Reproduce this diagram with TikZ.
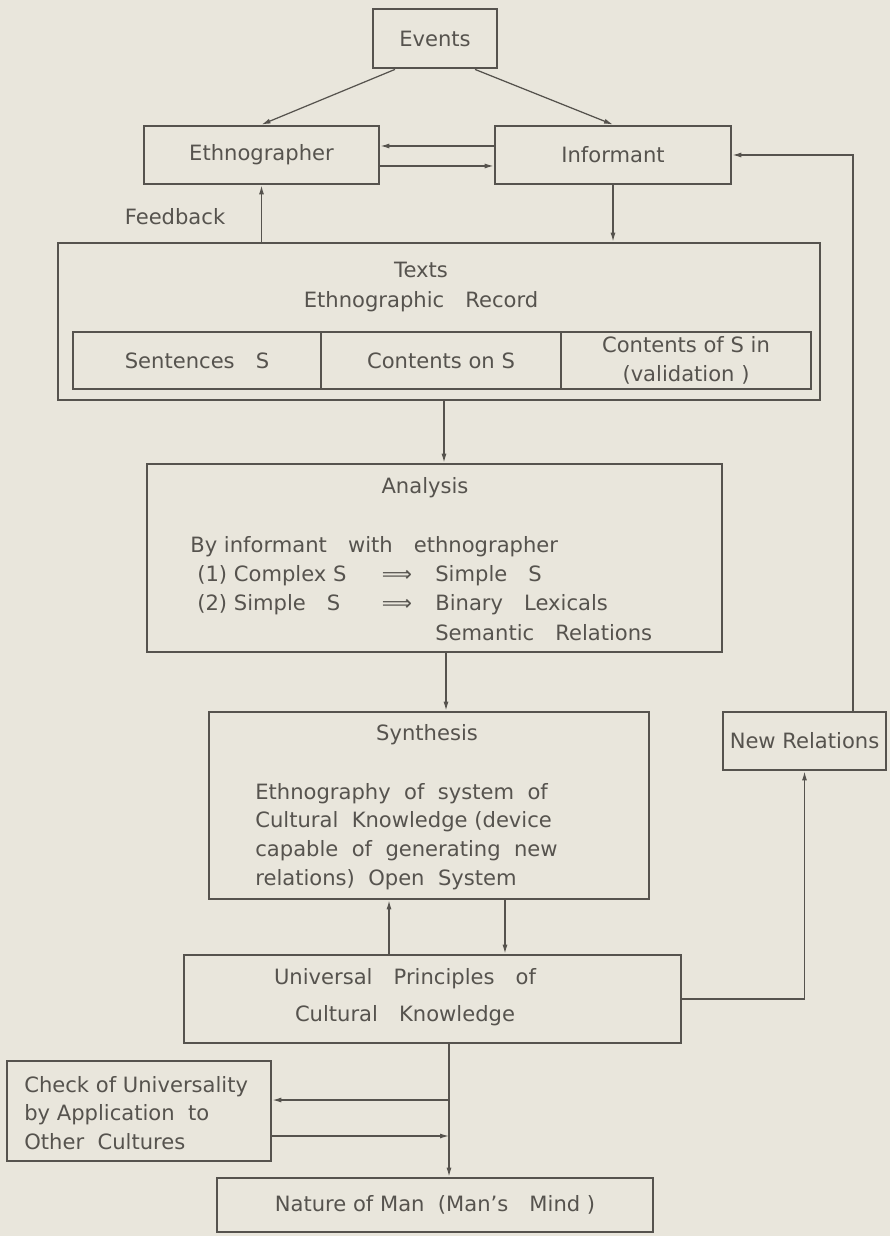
\documentclass[tikz,border=0pt]{standalone}
\usepackage{fontspec}
\setmainfont{DejaVu Sans}
\usepackage{xcolor}
\usepackage{tikz}
\usetikzlibrary{arrows.meta,positioning}
\definecolor{paper}{RGB}{233,230,220}
\definecolor{ink}{RGB}{86,83,78}

\begin{document}
\begin{tikzpicture}[
  x=0.02cm, y=-0.02cm,
  every node/.style={font=\fontsize{12}{16.4}\selectfont, text=ink},
  box/.style={rectangle, draw=ink, line width=1.6pt, inner sep=0pt},
  cell/.style={rectangle, draw=ink, line width=1pt, inner sep=0pt,
               minimum height=1.14cm, align=center},
  txt/.style={inner sep=0pt},
  arr/.style={-{Latex[length=1.8mm,width=1mm]}, draw=ink, line width=0.7pt}
]
\useasboundingbox (0,0) rectangle (890,1236);
\fill[paper] (0,0) rectangle (890,1236);

% top: events, ethnographer, informant
\node[box, minimum width=2.48cm, minimum height=1.18cm] (events) at (435,38.5) {Events};
\node[box, minimum width=4.70cm, minimum height=1.16cm] (ethno)  at (261.5,155) {Ethnographer\hspace{0.9cm}};
\node[box, minimum width=4.72cm, minimum height=1.16cm] (inform) at (613,155) {Informant};
\node[txt] (fb) at (175,217) {Feedback};

% ethnographic record
\node[box, minimum width=15.24cm, minimum height=3.14cm] (texts) at (439,321.5) {};
\node[txt, align=center, font=\fontsize{12}{17.6}\selectfont] (texts-t) at (421,287)
  {Texts\\Ethnographic\quad Record};
\node[cell, minimum width=4.96cm] (sent)  at (197,360.5) {Sentences\quad S};
\node[cell, minimum width=4.80cm] (cont)  at (441,360.5) {Contents on S};
\node[cell, minimum width=5.00cm] (valid) at (686,360.5) {Contents of S in\\(validation )};

% analysis
\node[box, minimum width=11.50cm, minimum height=3.76cm] (anl) at (434.5,558) {};
\node[txt] (anl-t) at (425,488) {Analysis};
\node[txt, anchor=west] (anl-a)  at (190,547) {By informant\quad with\quad ethnographer};
\node[txt, anchor=west] (anl-1)  at (197,576) {(1) Complex S};
\node[txt]              (anl-1i) at (397,576) {⟹};
\node[txt, anchor=west] (anl-1r) at (435,576) {Simple\quad S};
\node[txt, anchor=west] (anl-2)  at (197,605) {(2) Simple\quad S};
\node[txt]              (anl-2i) at (397,605) {⟹};
\node[txt, anchor=west] (anl-2r) at (435,605) {Binary\quad Lexicals};
\node[txt, anchor=west] (anl-3)  at (435,633) {Semantic\quad Relations};

% synthesis
\node[box, minimum width=8.80cm, minimum height=3.74cm] (synth) at (429,805.5) {};
\node[txt] (syn-t) at (427,735) {Synthesis};
\node[txt, anchor=west, align=left] (syn-b) at (255,836.5)
  {Ethnography\ \ of\ \ system\ \ of\\Cultural\ \ Knowledge (device\\capable\ \ of\ \ generating\ \ new\\relations)\ \ Open\ \ System};
\node[box, minimum width=3.26cm, minimum height=1.16cm] (newrel) at (804.5,741) {New Relations};

% universal principles
\node[box, minimum width=9.94cm, minimum height=1.76cm] (univ) at (432.5,999) {};
\node[txt, align=center, font=\fontsize{12}{21}\selectfont] (univ-t) at (405,997)
  {Universal\quad Principles\quad of\\Cultural\quad Knowledge};
\node[box, minimum width=5.28cm, minimum height=2.00cm] (check) at (139,1111) {};
\node[txt, anchor=west, align=left] (check-t) at (24,1113)
  {Check of Universality\\by Application\ \ to\\Other\ \ Cultures};
\node[box, minimum width=8.72cm, minimum height=1.08cm] (nature) at (435,1205)
  {Nature\ of\ Man\ \ (Man's\quad Mind\ )\hspace{0.25cm}};

\coordinate (s1) at (449,1100);
\coordinate (s2) at (449,1136);

% connectors
\draw[arr] ([xshift=-0.8cm]events.south) -- (ethno.north);
\draw[arr] ([xshift=0.8cm]events.south) -- (inform.north);
\draw[arr] ([yshift=0.18cm]inform.west) -- ([yshift=0.18cm]ethno.east);
\draw[arr] ([yshift=-0.22cm]ethno.east) -- ([yshift=-0.22cm]inform.west);
\draw[arr] (texts.north -| ethno.south) -- (ethno.south);
\draw[arr] (inform.south) -- (inform.south |- texts.north);
\draw[arr] ([xshift=0.1cm]texts.south) -- ([xshift=0.1cm]texts.south |- anl.north);
\draw[arr] ([xshift=0.23cm]anl.south) -- ([xshift=0.23cm]anl.south |- synth.north);
\draw[arr] ([xshift=-0.87cm]univ.north) -- ([xshift=-0.87cm]univ.north |- synth.south);
\draw[arr] ([xshift=1.45cm]univ.north |- synth.south) -- ([xshift=1.45cm]univ.north);
\draw[arr] (univ.east) -| (newrel.south);
\draw[arr] ([xshift=0.97cm]newrel.north) |- (inform.east);
\draw[arr] (univ.south -| s1) -- (nature.north -| s1);
\draw[arr] (s1) -- (check.east |- s1);
\draw[arr] (check.east |- s2) -- (s2);
\end{tikzpicture}
\end{document}
